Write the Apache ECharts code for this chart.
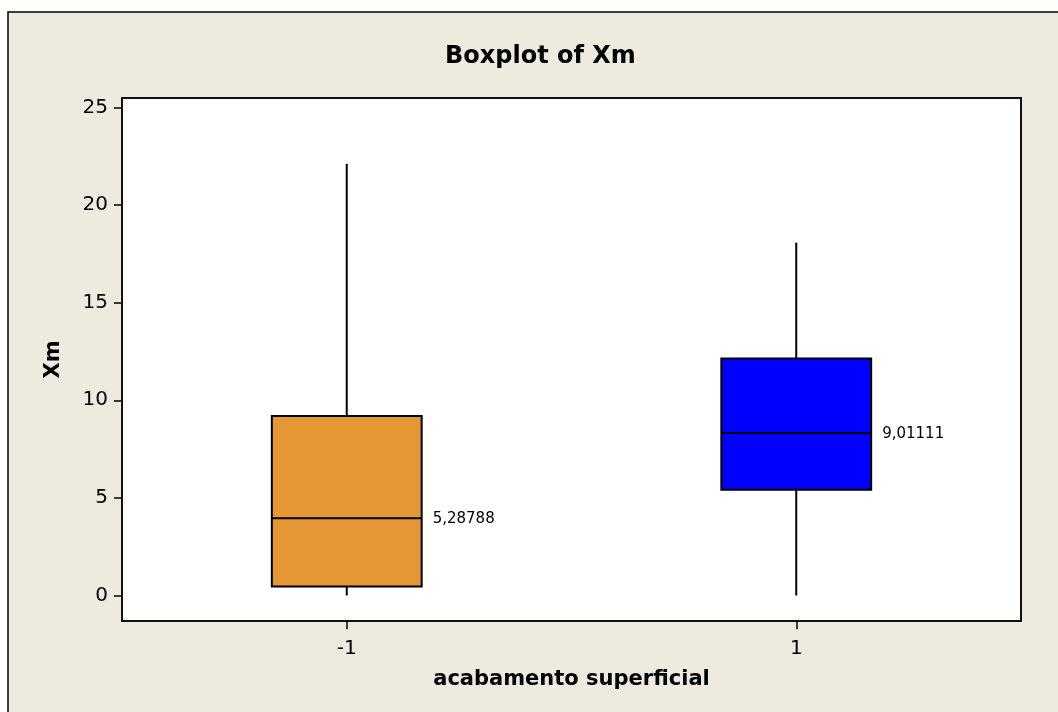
<!DOCTYPE html>
<html>
<head>
<meta charset="utf-8">
<script src="https://cdn.jsdelivr.net/npm/echarts@6/dist/echarts.min.js"></script>
<style>
html,body{margin:0;padding:0;background:#fff;}
#chart{width:1058px;height:712px;}
</style>
</head>
<body>
<div id="chart"></div>
<script>
// ---- data ----
var categories = ['-1', '1'];
var whiskerLow = [0, 0];
var q1Values = [0.46, 5.41];
var medianValues = [3.96, 8.33];
var q3Values = [9.19, 12.14];
var whiskerHigh = [22.12, 18.08];
var meanLabels = ['5,28788', '9,01111'];
var yTicks = [0, 5, 10, 15, 20, 25];

var boxColors = ['#E59735', '#0000FF'];
var FONT = "'DejaVu Sans', sans-serif";

var seriesData = categories.map(function (c, i) {
  return [i, whiskerLow[i], q1Values[i], medianValues[i], q3Values[i], whiskerHigh[i]];
});

var chart = echarts.init(document.getElementById('chart'), null, {renderer: 'canvas'});

chart.setOption({
  backgroundColor: '#ffffff',
  animation: false,
  graphic: [{
    type: 'rect',
    z: -100,
    shape: {x: 8, y: 12, width: 1100, height: 800},
    style: {fill: '#EEEAE0', stroke: '#000', lineWidth: 1.5}
  }],
  title: {
    text: 'Boxplot of Xm',
    left: 440,
    top: 40,
    textStyle: {fontFamily: FONT, fontSize: 24, fontWeight: 'bold', color: '#000'}
  },
  grid: {
    left: 122, top: 98, right: 37, bottom: 91,
    show: true, backgroundColor: '#ffffff', borderColor: '#111', borderWidth: 2
  },
  xAxis: {
    type: 'category',
    data: categories,
    boundaryGap: true,
    name: 'acabamento superficial',
    nameLocation: 'middle',
    nameGap: 48,
    nameTextStyle: {fontFamily: FONT, fontSize: 21, fontWeight: 'bold', color: '#000'},
    axisLine: {show: true, onZero: false, lineStyle: {color: '#111', width: 2}},
    axisTick: {show: true, alignWithLabel: true, length: 8, lineStyle: {color: '#000', width: 1.5}},
    axisLabel: {fontFamily: FONT, fontSize: 20, color: '#000', margin: 18},
    splitLine: {show: false}
  },
  yAxis: {
    type: 'value',
    min: -1.31,
    max: 25.49,
    name: 'Xm',
    nameLocation: 'middle',
    nameGap: 58,
    nameTextStyle: {fontFamily: FONT, fontSize: 21, fontWeight: 'bold', color: '#000'},
    axisLine: {show: false, onZero: false},
    axisTick: {show: true, length: 8, customValues: yTicks, lineStyle: {color: '#000', width: 1.5}},
    axisLabel: {fontFamily: FONT, fontSize: 20, color: '#000', margin: 14, customValues: yTicks},
    splitLine: {show: false}
  },
  series: [{
    type: 'custom',
    data: seriesData,
    encode: {x: 0, y: [1, 2, 3, 4, 5]},
    renderItem: function (params, api) {
      var idx = api.value(0);
      var band = api.size([1, 0])[0];
      var half = band / 3 / 2;
      var pLow = api.coord([idx, api.value(1)]);
      var pQ1 = api.coord([idx, api.value(2)]);
      var pMed = api.coord([idx, api.value(3)]);
      var pQ3 = api.coord([idx, api.value(4)]);
      var pHigh = api.coord([idx, api.value(5)]);
      var cx = pMed[0];
      var line = {stroke: '#000', lineWidth: 2};
      return {
        type: 'group',
        children: [
          {type: 'line', shape: {x1: cx, y1: pHigh[1], x2: cx, y2: pQ3[1]}, style: line},
          {type: 'line', shape: {x1: cx, y1: pQ1[1], x2: cx, y2: pLow[1]}, style: line},
          {type: 'rect', shape: {x: cx - half, y: pQ3[1], width: half * 2, height: pQ1[1] - pQ3[1]},
            style: {fill: boxColors[params.dataIndex], stroke: '#000', lineWidth: 2}},
          {type: 'line', shape: {x1: cx - half, y1: pMed[1], x2: cx + half, y2: pMed[1]}, style: line},
          {type: 'text', x: cx + half + 11, y: pMed[1] + 1,
            style: {text: meanLabels[params.dataIndex], fill: '#000', font: "15px 'DejaVu Sans', sans-serif",
              textAlign: 'left', textVerticalAlign: 'middle'}}
        ]
      };
    }
  }]
});
</script>
</body>
</html>
